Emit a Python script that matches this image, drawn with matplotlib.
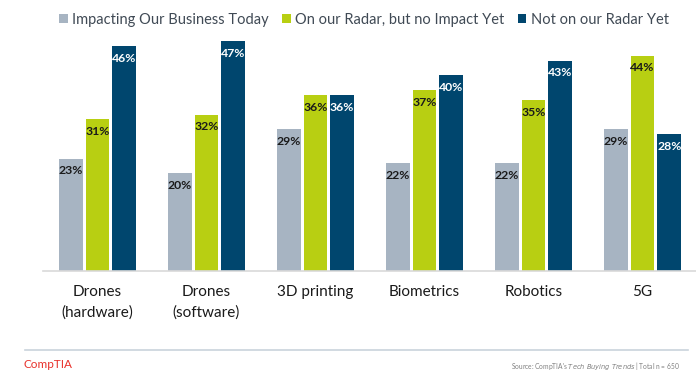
import matplotlib
matplotlib.use("Agg")
import matplotlib.pyplot as plt
import numpy as np

categories = ["Drones\n(hardware)", "Drones\n(software)", "3D printing", "Biometrics", "Robotics", "5G"]
series_names = ["Impacting Our Business Today", "On our Radar, but no Impact Yet", "Not on our Radar Yet"]
impacting = [23, 20, 29, 22, 22, 29]
on_radar = [31, 32, 36, 37, 35, 44]
not_on_radar = [46, 47, 36, 40, 43, 28]

colors = ["#A7B4C2", "#B8CF12", "#00466E"]
label_colors = ["#1a1a1a", "#1a1a1a", "white"]

plt.rcParams["font.family"] = ["Lato", "DejaVu Sans"]

fig = plt.figure(figsize=(6.96, 3.86), dpi=100)
ax = fig.add_axes([43 / 696, (386 - 271) / 386, (697 - 43) / 696, (271 - 26) / 386])

x = np.arange(len(categories))
width = 0.215
offsets = [-0.245, 0, 0.245]
for vals, name, col, lc, off in zip([impacting, on_radar, not_on_radar], series_names, colors, label_colors, offsets):
    bars = ax.bar(x + off, vals, width, color=col, label=name, edgecolor="none")
    for b, v in zip(bars, vals):
        ax.annotate(f"{v}%", (b.get_x() + b.get_width() / 2, v), xytext=(0, -4.8),
                    textcoords="offset points", ha="center", va="top",
                    fontsize=8.8, fontweight="bold", color=lc)

ax.set_xlim(-0.5, len(categories) - 0.5)
ax.set_ylim(0, 50.1)
ax.set_yticks([])
ax.set_xticks(x)
ax.set_xticklabels(categories, fontsize=11, color="#1a1a1a", linespacing=1.6)
ax.tick_params(axis="x", length=0, pad=10)
for s in ["top", "right", "left"]:
    ax.spines[s].set_visible(False)
ax.spines["bottom"].set_color("#D9D9D9")
ax.spines["bottom"].set_linewidth(1.2)

leg = fig.legend(loc="center", bbox_to_anchor=(0.523, 1 - 20 / 386), ncol=3, frameon=False,
                 fontsize=10.5, handlelength=0.6, handleheight=0.6, handletextpad=0.3,
                 columnspacing=0.9, borderaxespad=0)
for t in leg.get_texts():
    t.set_color("#404A55")

# footer rule and credits
fig.add_artist(plt.Line2D([25 / 696, 688 / 696], [1 - 350 / 386] * 2, color="#C9D3DC", lw=1.2))
fig.text(24 / 696, 1 - 364 / 386, "CompTIA", color="#E8302A", fontsize=8.5, va="center", ha="left")
fig.text(680 / 696, 1 - 366 / 386, r"Source: CompTIA's $\it{Tech\ Buying\ Trends}$ | Total n = 650",
         color="#808080", fontsize=4.8, va="center", ha="right")

fig.savefig("out.png", dpi=100)
